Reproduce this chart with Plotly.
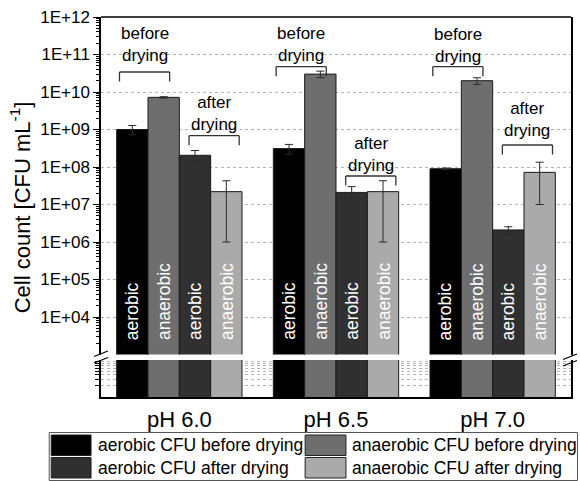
import plotly.graph_objects as go

# ---------------- data ----------------
categories = ["pH 6.0", "pH 6.5", "pH 7.0"]
series_names = ["aerobic CFU before drying", "anaerobic CFU before drying",
                "aerobic CFU after drying", "anaerobic CFU after drying"]
bar_labels = ["aerobic", "anaerobic", "aerobic", "anaerobic"]

aerobic_before = [1.0e9, 3.1e8, 9.0e7]
aerobic_before_err = [2.8e8, 9.0e7, 4.0e6]
anaerobic_before = [7.2e9, 3.0e10, 2.0e10]
anaerobic_before_err = [3.0e8, 6.0e9, 4.0e9]
aerobic_after = [2.05e8, 2.1e7, 2.1e6]
aerobic_after_err = [7.0e7, 9.0e6, 4.5e5]
anaerobic_after = [2.2e7, 2.2e7, 7.2e7]
anaerobic_after_err = [2.1e7, 2.1e7, 6.2e7]

tick_exponents = [4, 5, 6, 7, 8, 9, 10, 11, 12]
bracket_texts = ["before<br>drying", "after<br>drying"]

# ---------------- style ----------------
colors = ["#000000", "#6e6e6e", "#303030", "#aaaaaa"]
FONT = "Liberation Sans, Arial, sans-serif"
W, H = 580, 481
PL, PR, PT, PB = 101, 573, 17, 397


def px_x(px):
    return (px - PL) / (PR - PL)


def px_y(py):
    return (PB - py) / (PB - PT)


values = [aerobic_before, anaerobic_before, aerobic_after, anaerobic_after]
errors = [aerobic_before_err, anaerobic_before_err, aerobic_after_err, anaerobic_after_err]

fig = go.Figure()
for i in range(4):
    fig.add_trace(go.Bar(
        x=categories, y=values[i], name=series_names[i],
        marker=dict(color=colors[i], line=dict(color="#1a1a1a", width=1)),
        error_y=dict(type="data", array=errors[i], color="#2a2a2a", thickness=1, width=4),
        xaxis="x", yaxis="y", showlegend=False,
    ))
for i in range(4):
    fig.add_trace(go.Bar(
        x=categories, y=values[i], name=series_names[i],
        marker=dict(color=colors[i], line=dict(color="#1a1a1a", width=1)),
        xaxis="x", yaxis="y2", showlegend=False, hoverinfo="skip",
    ))

major_vals = [10.0 ** e for e in tick_exponents]
major_text = ["1E+%02d" % e for e in tick_exponents]
minor_vals = [k * 10.0 ** e for e in range(3, 12) for k in range(2, 10)]

grid_col = "#b4b4b4"
fig.update_layout(
    width=W, height=H,
    margin=dict(l=PL, r=W - PR, t=PT, b=H - PB, pad=0),
    paper_bgcolor="white", plot_bgcolor="white",
    barmode="group", bargap=0.2, bargroupgap=0,
    font=dict(family=FONT, color="black"),
    xaxis=dict(domain=[0, 1], anchor="y2", type="category", range=[-0.5, 2.5],
               showline=True, linecolor="black", linewidth=1.5, ticks="",
               tickfont=dict(size=22, family=FONT, color="black"), ticklabelstandoff=2,
               showgrid=False, zeroline=False),
    yaxis=dict(domain=[px_y(354.5), 1], anchor="x", type="log", range=[3, 12],
               showline=True, mirror=True, linecolor="black", linewidth=1.5,
               tickmode="array", tickvals=major_vals, ticktext=major_text,
               ticks="outside", ticklen=6, tickwidth=1.2, tickcolor="black",
               tickfont=dict(size=17, family=FONT, color="black"),
               showgrid=True, gridcolor=grid_col, griddash="dot", gridwidth=1,
               minor=dict(tickmode="array", tickvals=minor_vals, ticks="outside",
                          ticklen=3, tickcolor="black", tickwidth=1, showgrid=False),
               zeroline=False),
    yaxis2=dict(domain=[0, px_y(360)], anchor="x", type="log", range=[0, 1],
                showline=True, mirror=True, linecolor="black", linewidth=1.5,
                tickmode="array", tickvals=[1, 10], ticks="", showticklabels=False,
                showgrid=False,
                minor=dict(tickmode="array", tickvals=[2, 3, 4, 5, 6, 7, 8, 9],
                           ticks="outside", ticklen=4, tickcolor="black", tickwidth=1,
                           showgrid=True, gridcolor=grid_col, griddash="dot", gridwidth=1),
                zeroline=False),
)

shapes = []
annotations = []

# top frame line
shapes.append(dict(type="line", xref="paper", yref="paper", x0=0, x1=1, y0=1, y1=1,
                   line=dict(color="black", width=1.5)))

# axis break marks
for (xa, ya, xb, yb) in [(94, 356.5, 108, 351), (94, 363, 108, 357.5),
                         (565, 359.5, 579, 354), (565, 366, 579, 360.5)]:
    shapes.append(dict(type="line", xref="paper", yref="paper",
                       x0=px_x(xa), y0=px_y(ya), x1=px_x(xb), y1=px_y(yb),
                       line=dict(color="black", width=1.3)))

# vertical bar labels
bar_w_px = 0.2 * (PR - PL) / 3.0
for g, cat in enumerate(categories):
    for s in range(4):
        annotations.append(dict(
            x=cat, xref="x", xshift=(s - 1.5) * bar_w_px,
            y=px_y(342), yref="paper", yanchor="bottom", xanchor="center",
            text=bar_labels[s], textangle=-90, showarrow=False,
            font=dict(size=17.5, color="white", family=FONT)))

# brackets + labels
bracket_off = [(-0.382, -0.062), (0.062, 0.382)]
bracket_top = [[72, 135.7], [66.7, 176], [66.7, 145]]
text_center = [[44, 113], [44.8, 154.2], [45.3, 119.5]]
leg = 9.5
for g in range(len(categories)):
    for k in range(2):
        xa, xb = g + bracket_off[k][0], g + bracket_off[k][1]
        yt = bracket_top[g][k]
        for (x0, y0, x1, y1) in [(xa, yt, xb, yt), (xa, yt, xa, yt + leg), (xb, yt, xb, yt + leg)]:
            shapes.append(dict(type="line", xref="x", yref="paper",
                               x0=x0, x1=x1, y0=px_y(y0), y1=px_y(y1),
                               line=dict(color="#333333", width=1.3)))
        annotations.append(dict(
            x=(xa + xb) / 2, xref="x", y=px_y(text_center[g][k]), yref="paper",
            xanchor="center", yanchor="middle", text=bracket_texts[k], showarrow=False,
            font=dict(size=17, color="black", family=FONT)))

# y-axis title
annotations.append(dict(
    x=px_x(20), xref="paper", y=0.5, yref="paper", xanchor="center", yanchor="middle",
    text="Cell count [CFU mL<sup>-1</sup>]", textangle=-90, showarrow=False,
    font=dict(size=22, color="black", family=FONT)))

# legend (manual, 2 x 2)
shapes.append(dict(type="rect", xref="paper", yref="paper",
                   x0=px_x(49), x1=px_x(579.5), y0=px_y(432.5), y1=px_y(480.5),
                   line=dict(color="#555555", width=1), fillcolor="white", layer="below"))
sw_x = [(51, 91), (306, 347)]
txt_x = [96, 351]
rows = [(435, 455.5), (457.5, 478)]
order = [(0, 0, 0), (1, 0, 1), (2, 1, 0), (3, 1, 1)]  # series, row, col
for s, r, c in order:
    shapes.append(dict(type="rect", xref="paper", yref="paper",
                       x0=px_x(sw_x[c][0]), x1=px_x(sw_x[c][1]),
                       y0=px_y(rows[r][1]), y1=px_y(rows[r][0]),
                       fillcolor=colors[s], line=dict(color="#222222", width=1)))
    annotations.append(dict(
        x=px_x(txt_x[c]), xref="paper", y=px_y((rows[r][0] + rows[r][1]) / 2), yref="paper",
        xanchor="left", yanchor="middle", text=series_names[s], showarrow=False,
        font=dict(size=17.5, color="black", family=FONT)))

fig.update_layout(shapes=shapes, annotations=annotations)
fig.write_html("out.html")
